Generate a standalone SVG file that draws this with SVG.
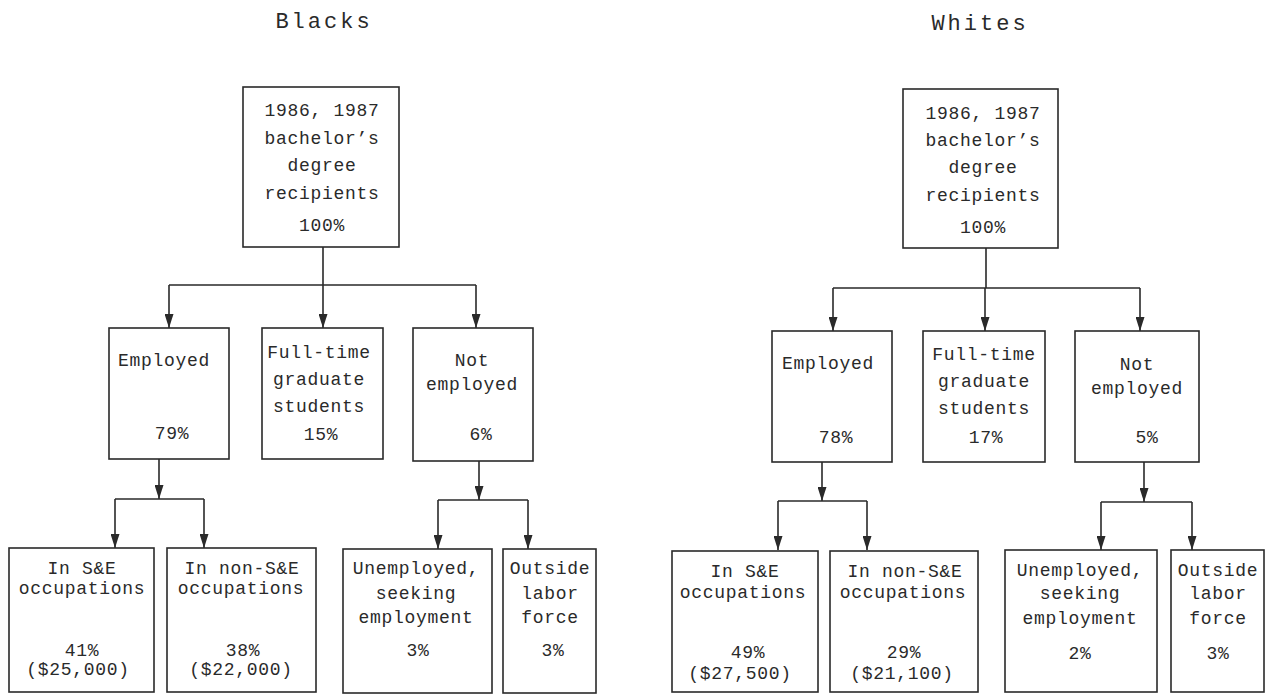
<svg xmlns="http://www.w3.org/2000/svg" width="1266" height="695" viewBox="0 0 1266 695">
<defs>
<marker id="arr" markerUnits="userSpaceOnUse" markerWidth="14" markerHeight="9" refX="14" refY="4.5" orient="auto">
<path d="M0,0 L14,4.5 L0,9 z" fill="#2a2a2a"/>
</marker>
<style>
.box{fill:#fff;stroke:#2a2a2a;stroke-width:1.6}
.t{font-family:"Liberation Mono","DejaVu Sans Mono",monospace;font-size:18px;letter-spacing:0.7px;fill:#2a2a2a;text-anchor:middle}
.title{font-family:"Liberation Mono","DejaVu Sans Mono",monospace;font-size:22px;letter-spacing:3px;fill:#2a2a2a;text-anchor:middle}
.c{fill:none;stroke:#2a2a2a;stroke-width:1.6}
.a{fill:none;stroke:#2a2a2a;stroke-width:1.6;marker-end:url(#arr)}
</style>
</defs>
<rect width="1266" height="695" fill="#fff"/>

<text class="title" x="324" y="28">Blacks</text>
<text class="title" x="980" y="30">Whites</text>

<g id="connectors">
<!-- Blacks -->
<path class="c" d="M323,247 V285 M169,285 H476"/>
<path class="a" d="M169,285 V328"/>
<path class="a" d="M323,285 V328"/>
<path class="a" d="M476,285 V328"/>
<path class="a" d="M159,459 V499"/>
<path class="c" d="M115,499 H204"/>
<path class="a" d="M115,499 V548"/>
<path class="a" d="M204,499 V548"/>
<path class="a" d="M479,461 V500"/>
<path class="c" d="M438,500 H528"/>
<path class="a" d="M438,500 V549"/>
<path class="a" d="M528,500 V549"/>
<!-- Whites -->
<path class="c" d="M986,248 V288 M833,288 H1140"/>
<path class="a" d="M833,288 V331"/>
<path class="a" d="M985,288 V331"/>
<path class="a" d="M1140,288 V331"/>
<path class="a" d="M822,462 V501"/>
<path class="c" d="M778,501 H867"/>
<path class="a" d="M778,501 V550"/>
<path class="a" d="M867,501 V550"/>
<path class="a" d="M1144,462 V502"/>
<path class="c" d="M1101,502 H1192"/>
<path class="a" d="M1101,502 V550"/>
<path class="a" d="M1192,502 V550"/>
</g>

<!-- Blacks nodes -->
<g id="b-root">
<rect class="box" x="243" y="87" width="156" height="160"/>
<text class="t" x="322" y="116">1986, 1987</text>
<text class="t" x="322" y="144">bachelor’s</text>
<text class="t" x="322" y="171">degree</text>
<text class="t" x="322" y="199">recipients</text>
<text class="t" x="322" y="231">100%</text>
</g>
<g id="b-employed">
<rect class="box" x="109" y="328" width="120" height="131"/>
<text class="t" x="164" y="366">Employed</text>
<text class="t" x="172" y="439">79%</text>
</g>
<g id="b-grad">
<rect class="box" x="262" y="328" width="121" height="131"/>
<text class="t" x="319" y="358">Full-time</text>
<text class="t" x="319" y="385">graduate</text>
<text class="t" x="319" y="412">students</text>
<text class="t" x="321" y="440">15%</text>
</g>
<g id="b-notemployed">
<rect class="box" x="413" y="328" width="120" height="133"/>
<text class="t" x="472" y="366">Not</text>
<text class="t" x="472" y="390">employed</text>
<text class="t" x="481" y="440">6%</text>
</g>
<g id="b-se">
<rect class="box" x="9" y="548" width="145" height="144"/>
<text class="t" x="82" y="574">In S&amp;E</text>
<text class="t" x="82" y="594">occupations</text>
<text class="t" x="82" y="656">41%</text>
<text class="t" x="78" y="675">($25,000)</text>
</g>
<g id="b-nonse">
<rect class="box" x="167" y="548" width="149" height="144"/>
<text class="t" x="242" y="574">In non-S&amp;E</text>
<text class="t" x="241" y="594">occupations</text>
<text class="t" x="243" y="656">38%</text>
<text class="t" x="241" y="675">($22,000)</text>
</g>
<g id="b-unemployed">
<rect class="box" x="343" y="549" width="149" height="144"/>
<text class="t" x="416" y="574">Unemployed,</text>
<text class="t" x="416" y="599">seeking</text>
<text class="t" x="416" y="623">employment</text>
<text class="t" x="418" y="656">3%</text>
</g>
<g id="b-outside">
<rect class="box" x="503" y="549" width="93" height="144"/>
<text class="t" x="550" y="574">Outside</text>
<text class="t" x="550" y="599">labor</text>
<text class="t" x="550" y="623">force</text>
<text class="t" x="553" y="656">3%</text>
</g>

<!-- Whites nodes -->
<g id="w-root">
<rect class="box" x="903" y="89" width="155" height="159"/>
<text class="t" x="983" y="119">1986, 1987</text>
<text class="t" x="983" y="146">bachelor’s</text>
<text class="t" x="983" y="173">degree</text>
<text class="t" x="983" y="201">recipients</text>
<text class="t" x="983" y="233">100%</text>
</g>
<g id="w-employed">
<rect class="box" x="772" y="331" width="120" height="131"/>
<text class="t" x="828" y="369">Employed</text>
<text class="t" x="836" y="443">78%</text>
</g>
<g id="w-grad">
<rect class="box" x="923" y="331" width="122" height="131"/>
<text class="t" x="984" y="360">Full-time</text>
<text class="t" x="984" y="387">graduate</text>
<text class="t" x="984" y="414">students</text>
<text class="t" x="986" y="443">17%</text>
</g>
<g id="w-notemployed">
<rect class="box" x="1075" y="331" width="124" height="131"/>
<text class="t" x="1137" y="370">Not</text>
<text class="t" x="1137" y="394">employed</text>
<text class="t" x="1147" y="443">5%</text>
</g>
<g id="w-se">
<rect class="box" x="672" y="551" width="146" height="141"/>
<text class="t" x="745" y="577">In S&amp;E</text>
<text class="t" x="743" y="598">occupations</text>
<text class="t" x="748" y="658">49%</text>
<text class="t" x="740" y="679">($27,500)</text>
</g>
<g id="w-nonse">
<rect class="box" x="830" y="551" width="148" height="141"/>
<text class="t" x="905" y="577">In non-S&amp;E</text>
<text class="t" x="903" y="598">occupations</text>
<text class="t" x="904" y="658">29%</text>
<text class="t" x="902" y="679">($21,100)</text>
</g>
<g id="w-unemployed">
<rect class="box" x="1005" y="550" width="152" height="142"/>
<text class="t" x="1080" y="576">Unemployed,</text>
<text class="t" x="1080" y="599">seeking</text>
<text class="t" x="1080" y="624">employment</text>
<text class="t" x="1080" y="659">2%</text>
</g>
<g id="w-outside">
<rect class="box" x="1171" y="550" width="93" height="142"/>
<text class="t" x="1218" y="576">Outside</text>
<text class="t" x="1218" y="599">labor</text>
<text class="t" x="1218" y="624">force</text>
<text class="t" x="1218" y="659">3%</text>
</g>
</svg>
